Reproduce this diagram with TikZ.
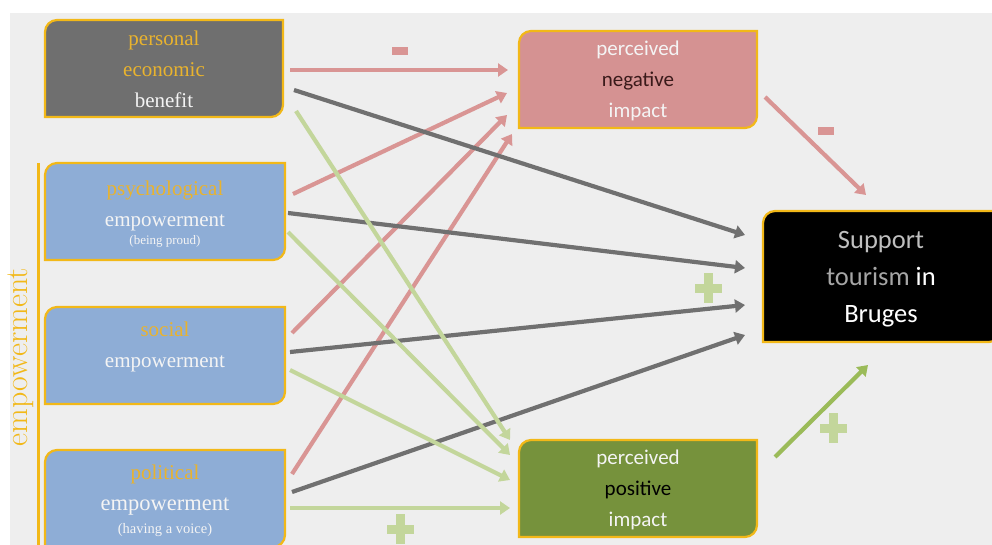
\documentclass[tikz,border=0pt]{standalone}
\usepackage{fontspec}
\newfontfamily\sansf{Carlito}
\newfontfamily\seriff{Liberation Serif}
\usetikzlibrary{arrows.meta,calc}
\definecolor{bgc}{HTML}{EEEEEE}
\definecolor{gold}{HTML}{F2B818}
\definecolor{goldtxt}{HTML}{E9B32E}
\definecolor{whtxt}{HTML}{F4F4F4}
\definecolor{boxgray}{HTML}{6F6F6F}
\definecolor{boxblue}{HTML}{8EADD6}
\definecolor{boxpink}{HTML}{D59292}
\definecolor{boxgreen}{HTML}{76923C}
\definecolor{arrpink}{HTML}{D99594}
\definecolor{arrgray}{HTML}{707070}
\definecolor{arrgreen}{HTML}{C3D69B}
\definecolor{arrdgreen}{HTML}{9BBB59}
\definecolor{negtxt}{HTML}{3A1A1A}
\definecolor{suptxt}{HTML}{BFBFBF}
\definecolor{tourtxt}{HTML}{A6A6A6}
\newcommand\rbox[2]{\draw[line width=2.2pt, draw=gold, fill=#2]
  (#1.south west) -- ($(#1.north west)+(0,-12pt)$)
  .. controls ($(#1.north west)+(0,-5.4pt)$) and ($(#1.north west)+(5.4pt,0)$) .. ($(#1.north west)+(12pt,0)$)
  -- (#1.north east) -- ($(#1.south east)+(0,12pt)$)
  .. controls ($(#1.south east)+(0,5.4pt)$) and ($(#1.south east)+(-5.4pt,0)$) .. ($(#1.south east)+(-12pt,0)$) -- cycle;}
\newcommand\plusat[2]{\fill[arrgreen] (#1-13.5,#2-4.5) rectangle (#1+13.5,#2+4.5);
  \fill[arrgreen] (#1-4.5,#2-15) rectangle (#1+4.5,#2+15);}
\begin{document}
\begin{tikzpicture}[x=1pt,y=-1pt,
  boxnode/.style={rectangle, inner sep=0pt, outer sep=0pt, minimum width=#1},
  lserif/.style={align=center, inner sep=0pt, font=\seriff\fontsize{21}{31}\selectfont},
  lsans/.style={align=center, inner sep=0pt, font=\sansf\fontsize{21}{31}\selectfont},
  arr/.style={line width=4.2pt, -{Triangle[length=10pt,width=13pt]}},
  minusbar/.style={rectangle, fill=arrpink, inner sep=0pt, minimum width=16pt, minimum height=8pt}
]
\useasboundingbox (0,0) rectangle (992,545);
\fill[bgc] (10,13) rectangle (992,545);

% boxes
\node[boxnode=238pt, minimum height=97pt] (pe) at (164,68.5) {};
\node[boxnode=240pt, minimum height=97pt] (psy) at (165,211.5) {};
\node[boxnode=240pt, minimum height=97pt] (soc) at (165,355.5) {};
\node[boxnode=240pt, minimum height=97pt] (pol) at (165,498.5) {};
\node[boxnode=238pt, minimum height=97pt] (neg) at (638,79.5) {};
\node[boxnode=238pt, minimum height=97pt] (pos) at (638,488.5) {};
\node[boxnode=238pt, minimum height=131pt] (sup) at (882,276.5) {};
\rbox{pe}{boxgray}
\rbox{psy}{boxblue}
\rbox{soc}{boxblue}
\rbox{pol}{boxblue}
\rbox{neg}{boxpink}
\rbox{pos}{boxgreen}
\rbox{sup}{black}

% labels
\node[lserif] (pe-t) at (164,69) {\textcolor{goldtxt}{personal}\\\textcolor{goldtxt}{economic}\\\textcolor{whtxt}{benefit}};
\node[lserif] (psy-t) at (165,214) {\textcolor{goldtxt}{psychological}\\\textcolor{whtxt}{empowerment}\\[-13pt]{\fontsize{13}{13}\selectfont\textcolor{whtxt}{(being proud)}}};
\node[lserif] (soc-t) at (165,347) {\textcolor{goldtxt}{social}\\\textcolor{whtxt}{empowerment}};
\node[lserif] (pol-t) at (165,501) {\textcolor{goldtxt}{political}\\{\fontsize{22.5}{31}\selectfont\textcolor{whtxt}{empowerment}}\\[-8pt]{\fontsize{14.5}{14}\selectfont\textcolor{whtxt}{(having a voice)}}};
\node[lsans] (neg-t) at (638,81) {\textcolor{whtxt}{perceived}\\\textcolor{negtxt}{negative}\\\textcolor{whtxt}{impact}};
\node[lsans] (pos-t) at (638,490) {\textcolor{whtxt}{perceived}\\\textcolor{black}{positive}\\\textcolor{whtxt}{impact}};
\node[align=center, inner sep=0pt, font=\sansf\fontsize{26.5}{37}\selectfont] (sup-t) at (881,279) {\textcolor{suptxt}{Support}\\\textcolor{tourtxt}{tourism} \textcolor{white}{in}\\\textcolor{white}{Bruges}};

% empowerment bracket
\node[rotate=90, inner sep=0pt, text=gold, font=\fontsize{32}{32}\selectfont] (emp) at (21,357) {empowerment};
\draw[gold, line width=3pt] (38,163) -- (38,545);

% arrows to negative impact
\draw[arr, arrpink] ([shift={(7,50)}]pe.north east) -- ([shift={(-11,39)}]neg.north west);
\draw[arr, arrpink] ([shift={(8,31)}]psy.north east) -- ([shift={(-12,62)}]neg.north west);
\draw[arr, arrpink] ([shift={(7,26)}]soc.north east) -- ([shift={(-12,84)}]neg.north west);
\draw[arr, arrpink] ([shift={(7,24)}]pol.north east) -- ([shift={(-7,103)}]neg.north west);
% arrows to support
\draw[arr, arrgray] ([shift={(11,70)}]pe.north east) -- ([shift={(-18,24)}]sup.north west);
\draw[arr, arrgray] ([shift={(3,50)}]psy.north east) -- ([shift={(-18,57)}]sup.north west);
\draw[arr, arrgray] ([shift={(5,45)}]soc.north east) -- ([shift={(-18,94)}]sup.north west);
\draw[arr, arrgray] ([shift={(7,42)}]pol.north east) -- ([shift={(-18,124)}]sup.north west);
% arrows to positive impact
\draw[arr, arrgreen] ([shift={(13,91)}]pe.north east) -- ([shift={(-9,0)}]pos.north west);
\draw[arr, arrgreen] ([shift={(3,69)}]psy.north east) -- ([shift={(-9,15)}]pos.north west);
\draw[arr, arrgreen] ([shift={(5,63)}]soc.north east) -- ([shift={(-9,40)}]pos.north west);
\draw[arr, arrgreen] ([shift={(5,58)}]pol.north east) -- ([shift={(-9,68)}]pos.north west);
% impacts to support
\draw[arr, arrpink] ([shift={(8,66)}]neg.north east) -- ([shift={(103,-16)}]sup.north west);
\draw[arr, arrdgreen] ([shift={(18,17)}]pos.north east) -- ([shift={(105,23)}]sup.south west);

% signs
\node[minusbar] (m1) at (400,51) {};
\node[minusbar] (m2) at (826,131) {};
\plusat{708}{288}
\plusat{833}{428}
\plusat{400}{529}
\end{tikzpicture}
\end{document}
